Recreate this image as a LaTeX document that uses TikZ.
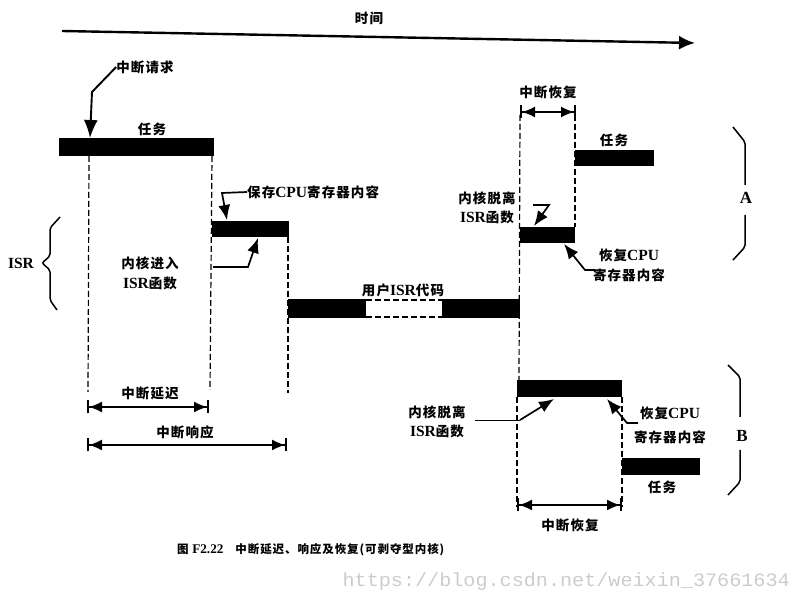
\documentclass[tikz,border=0pt]{standalone}
\usepackage{fontspec}
\setmainfont{Liberation Serif}
\setmonofont{Liberation Mono}
\newfontfamily\cjk{Noto Sans CJK SC}[LetterSpace=8]
\newfontfamily\latf{Liberation Serif}[Scale=1.15]
\usetikzlibrary{arrows.meta}
\newcommand\lt[1]{{\latf\bfseries #1}}
\begin{document}
\begin{tikzpicture}[x=1pt,y=-1pt,
  lbl/.style={font=\cjk\bfseries\fontsize{13.5}{15}\selectfont, inner sep=0pt, align=center},
  barfill/.style={fill=black},
  vdash/.style={line width=1.2pt, dash pattern=on 6pt off 3pt},
  ptr/.style={line width=1.7pt, -{Latex[length=15pt,width=12pt]}},
  dim/.style={line width=1.5pt, {Bar[width=13pt,line width=2pt]Latex[length=13pt,width=11pt]}-{Latex[length=13pt,width=11pt]Bar[width=13pt,line width=2pt]}},
  brace/.style={line width=1.5pt, rounded corners=2pt}]
\useasboundingbox (0,0) rectangle (793,601);

% time axis
\coordinate (t0) at (62,31);
\coordinate (t1) at (695,43);
\draw[line width=2.4pt, -{Latex[length=16pt,width=14pt]}] (t0) -- (t1);
\node[lbl] (time) at (369,18) {时间};

% bars
\fill[barfill] (59,138) rectangle (214,156);
\fill[barfill] (212,221) rectangle (289,237);
\fill[barfill] (288,299) rectangle (366,318);
\fill[barfill] (442,299) rectangle (520,318);
\draw[vdash] (366,300) -- (442,300);
\draw[vdash] (366,317) -- (442,317);
\fill[barfill] (575,150) rectangle (654,166);
\fill[barfill] (520,227) rectangle (575,243);
\fill[barfill] (517,380) rectangle (622,397);
\fill[barfill] (622,458) rectangle (700,475);

% dashed verticals
\draw[vdash] (89,156) -- (88,392);
\draw[vdash] (212,156) -- (210,390);
\draw[vdash] (288,237) -- (288,393);
\draw[vdash] (520,115) -- (519,380);
\draw[vdash] (575,115) -- (575,227);
\draw[vdash] (517,397) -- (517,507);
\draw[vdash] (622,397) -- (622,507);

% interrupt request
\node[lbl] (req) at (145,67) {中断请求};
\coordinate (reqk) at (92,92);
\coordinate (reqt) at (90,138);
\draw[ptr, line width=1.9pt, -{Latex[length=18pt,width=14pt]}] (req.west) -- (reqk) -- (reqt);

\node[lbl] (task1) at (152,129) {任务};

% save CPU
\node[lbl, anchor=west] (save) at (247,192) {保存\lt{CPU}寄存器内容};
\coordinate (savek) at (222,193);
\coordinate (savet) at (227,220);
\draw[ptr] (save.west) -- (savek) -- (savet);

% kernel enter ISR
\node[lbl, font=\cjk\bfseries\fontsize{13.5}{20}\selectfont] (enter) at (150,273) {内核进入\\\lt{ISR}函数};
\coordinate (ent0) at (213,267);
\coordinate (entk) at (248,267);
\coordinate (entt) at (258,238);
\draw[ptr] (ent0) -- (entk) -- (entt);

% ISR brace
\draw[brace] (60,217) -- (50,228) -- (50,256) -- (42,263) -- (50,270) -- (50,300) -- (57,310);
\node[lbl] (isr) at (21,263) {\lt{ISR}};

% user ISR code
\node[lbl] (user) at (403,290) {用户\lt{ISR}代码};

% latency / response
\node[lbl] (lat) at (150,393) {中断延迟};
\coordinate (lat0) at (87,407);
\coordinate (lat1) at (209,407);
\draw[dim] (lat0) -- (lat1);
\node[lbl] (resp) at (185,432) {中断响应};
\coordinate (resp0) at (87,445);
\coordinate (resp1) at (287,445);
\draw[dim] (resp0) -- (resp1);

% ---- A ----
\node[lbl] (recA) at (548,92) {中断恢复};
\coordinate (recA0) at (520,112);
\coordinate (recA1) at (576,112);
\draw[dim] (recA0) -- (recA1);
\node[lbl] (taskA) at (614,140) {任务};
\node[lbl, font=\cjk\bfseries\fontsize{13.5}{19}\selectfont] (leaveA) at (487,208) {内核脱离\\\lt{ISR}函数};
\coordinate (lvA0) at (533,205);
\coordinate (lvAk) at (549,205);
\coordinate (lvAt) at (534,226);
\draw[ptr] (lvA0) -- (lvAk) -- (lvAt);
\node[lbl, font=\cjk\bfseries\fontsize{13.5}{20}\selectfont] (restA) at (629,265) {恢复\lt{CPU}\\寄存器内容};
\coordinate (rsA0) at (595,270);
\coordinate (rsAk) at (585,270);
\coordinate (rsAt) at (564,244);
\draw[ptr] (rsA0) -- (rsAk) -- (rsAt);
\draw[brace] (733,127) -- (745,142) -- (745,185);
\draw[brace] (745,215) -- (745,247) -- (733,260);
\node[lbl, font=\rmfamily\bfseries\fontsize{17}{19}\selectfont] (labA) at (746,198) {A};

% ---- B ----
\node[lbl, font=\cjk\bfseries\fontsize{13.5}{19}\selectfont] (leaveB) at (437,422) {内核脱离\\\lt{ISR}函数};
\coordinate (lvB0) at (475,420);
\coordinate (lvBk) at (520,420);
\coordinate (lvBt) at (554,399);
\draw[line width=0.9pt] (lvB0) -- (lvBk);
\draw[ptr] (lvBk) -- (lvBt);
\node[lbl, font=\cjk\bfseries\fontsize{13.5}{24}\selectfont] (restB) at (670,425) {恢复\lt{CPU}\\寄存器内容};
\coordinate (rsB0) at (638,423);
\coordinate (rsBk) at (627,423);
\coordinate (rsBt) at (607,399);
\draw[ptr] (rsB0) -- (rsBk) -- (rsBt);
\node[lbl] (taskB) at (662,487) {任务};
\coordinate (recB0) at (517,505);
\coordinate (recB1) at (622,505);
\draw[dim] (recB0) -- (recB1);
\node[lbl] (recB) at (570,525) {中断恢复};
\draw[brace] (728,365) -- (740,377) -- (740,417);
\draw[brace] (740,450) -- (740,482) -- (728,495);
\node[lbl, font=\rmfamily\bfseries\fontsize{17}{19}\selectfont] (labB) at (742,436) {B};

% caption
\node[lbl, anchor=west, font=\cjk\bfseries\fontsize{11.5}{13}\selectfont] (cap) at (177,550) {图 \lt{F2.22}\hspace{12pt}中断延迟、响应及恢复(可剥夺型内核)};

% watermark
\node[inner sep=0pt, anchor=east, text=black!20, font=\ttfamily\fontsize{19}{21}\selectfont, xscale=1.06] (wm) at (790,582) {https://blog.csdn.net/weixin\_37661634};
\end{tikzpicture}
\end{document}
